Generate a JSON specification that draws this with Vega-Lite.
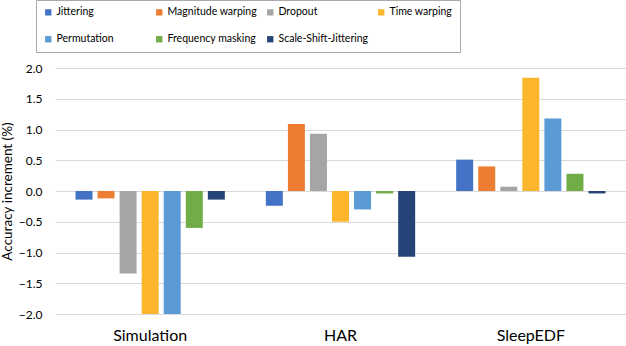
{
  "$schema": "https://vega.github.io/schema/vega-lite/v6.json",
  "width": 571,
  "height": 246,
  "autosize": {"type": "none"},
  "padding": {"left": 55, "top": 68, "right": 0, "bottom": 32},
  "background": "white",
  "config": {
    "view": {"stroke": null},
    "font": "Lato",
    "axis": {"labelFont": "Lato", "titleFont": "Lato", "labelColor": "#000", "titleColor": "#000"}
  },
  "data": {
    "values": [
      {"dataset": "Simulation", "method": "Jittering", "value": -0.14},
      {"dataset": "Simulation", "method": "Magnitude warping", "value": -0.12},
      {"dataset": "Simulation", "method": "Dropout", "value": -1.34},
      {"dataset": "Simulation", "method": "Time warping", "value": -2.0},
      {"dataset": "Simulation", "method": "Permutation", "value": -2.0},
      {"dataset": "Simulation", "method": "Frequency masking", "value": -0.6},
      {"dataset": "Simulation", "method": "Scale-Shift-Jittering", "value": -0.14},
      {"dataset": "HAR", "method": "Jittering", "value": -0.24},
      {"dataset": "HAR", "method": "Magnitude warping", "value": 1.09},
      {"dataset": "HAR", "method": "Dropout", "value": 0.93},
      {"dataset": "HAR", "method": "Time warping", "value": -0.5},
      {"dataset": "HAR", "method": "Permutation", "value": -0.3},
      {"dataset": "HAR", "method": "Frequency masking", "value": -0.04},
      {"dataset": "HAR", "method": "Scale-Shift-Jittering", "value": -1.07},
      {"dataset": "SleepEDF", "method": "Jittering", "value": 0.51},
      {"dataset": "SleepEDF", "method": "Magnitude warping", "value": 0.4},
      {"dataset": "SleepEDF", "method": "Dropout", "value": 0.07},
      {"dataset": "SleepEDF", "method": "Time warping", "value": 1.84},
      {"dataset": "SleepEDF", "method": "Permutation", "value": 1.18},
      {"dataset": "SleepEDF", "method": "Frequency masking", "value": 0.28},
      {"dataset": "SleepEDF", "method": "Scale-Shift-Jittering", "value": -0.04}
    ]
  },
  "mark": {"type": "bar", "clip": true},
  "encoding": {
    "x": {
      "field": "dataset",
      "type": "nominal",
      "sort": ["Simulation", "HAR", "SleepEDF"],
      "scale": {"paddingInner": 0.19, "paddingOuter": 0.095},
      "axis": {"title": null, "labelAngle": 0, "domain": false, "ticks": false, "labelFontSize": 16, "labelPadding": 13}
    },
    "xOffset": {
      "field": "method",
      "type": "nominal",
      "sort": ["Jittering", "Magnitude warping", "Dropout", "Time warping", "Permutation", "Frequency masking", "Scale-Shift-Jittering"],
      "scale": {"paddingInner": 0.23, "paddingOuter": 0.11}
    },
    "y": {
      "field": "value",
      "type": "quantitative",
      "scale": {"domain": [-2, 2], "nice": false},
      "axis": {
        "title": "Accuracy increment (%)",
        "titleFontSize": 13.5,
        "titleFontWeight": "normal",
        "titlePadding": 4,
        "values": [-2, -1.5, -1, -0.5, 0, 0.5, 1, 1.5, 2],
        "format": ".1f",
        "domain": false,
        "ticks": false,
        "labelFontSize": 12,
        "labelPadding": 13,
        "gridColor": "#d9d9d9",
        "gridWidth": 1
      }
    },
    "color": {
      "field": "method",
      "type": "nominal",
      "sort": ["Jittering", "Magnitude warping", "Dropout", "Time warping", "Permutation", "Frequency masking", "Scale-Shift-Jittering"],
      "scale": {
        "domain": ["Jittering", "Magnitude warping", "Dropout", "Time warping", "Permutation", "Frequency masking", "Scale-Shift-Jittering"],
        "range": ["#4472C4", "#ED7D31", "#A5A5A5", "#FBB62E", "#5B9BD5", "#70AD47", "#264478"]
      },
      "legend": {
        "title": null,
        "orient": "none",
        "legendX": -19,
        "legendY": -68,
        "direction": "horizontal",
        "columns": 4,
        "gridAlign": "all",
        "columnPadding": 7,
        "rowPadding": 16,
        "padding": 7,
        "strokeColor": "#aaaaaa",
        "symbolType": "square",
        "symbolSize": 40,
        "symbolStrokeWidth": 0,
        "labelFont": "Lato",
        "labelFontSize": 10.5,
        "labelOffset": 3,
        "labelLimit": 200
      }
    }
  }
}
